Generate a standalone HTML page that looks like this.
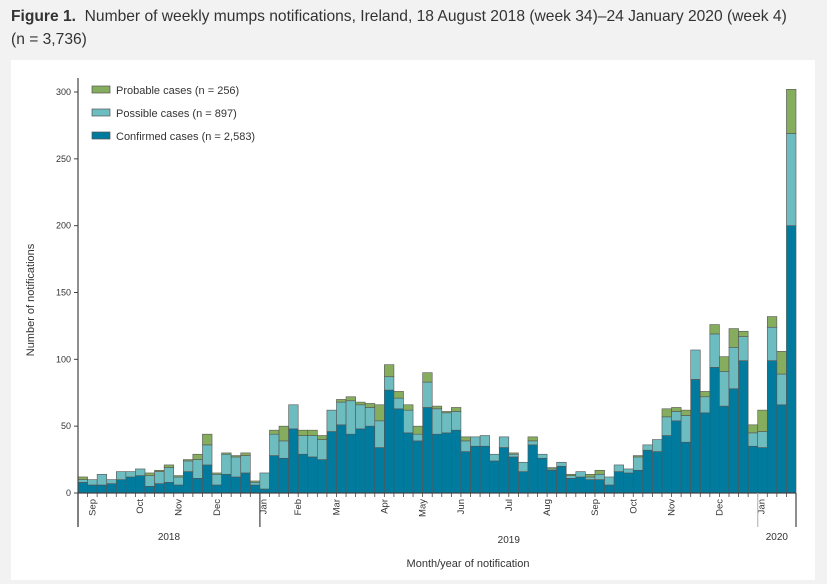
<!DOCTYPE html>
<html><head><meta charset="utf-8">
<style>
html,body{margin:0;padding:0;background:#f2f2f2;width:827px;height:584px;overflow:hidden;font-family:"Liberation Sans",sans-serif;}
#title{position:absolute;left:11px;top:5px;font-size:15.6px;line-height:23px;color:#333;white-space:nowrap;}
#panel{position:absolute;left:11px;top:60px;width:804px;height:520px;background:#fff;}
svg{position:absolute;left:0;top:0;}
</style></head><body>
<div id="title"><b>Figure 1.</b>&nbsp; Number of weekly mumps notifications, Ireland, 18 August 2018 (week 34)–24 January 2020 (week 4)<br>(n = 3,736)</div>
<div id="panel"></div>
<svg id="chart" width="827" height="584"></svg>
<script>
const confirmed=[8,6,6,7,10,12,13,5,7,8,6,16,11,21,6,14,12,15,6,3,28,26,48,29,27,25,46,51,44,48,50,34,77,63,45,39,64,44,45,47,31,35,35,24,34,27,16,36,26,17,20,11,12,10,10,6,16,15,17,32,31,43,54,38,85,60,94,65,78,99,35,34,99,66,200];
const possible=[2,4,8,3,6,4,5,8,9,11,6,8,14,15,8,15,15,13,2,12,16,13,18,14,16,15,16,17,25,18,14,20,10,8,17,5,19,19,15,14,8,7,8,5,8,2,7,3,3,1,3,2,4,2,4,6,5,3,10,4,9,14,7,20,22,12,25,26,31,18,10,12,25,23,69];
const probable=[2,0,0,0,0,0,0,2,1,2,1,1,4,8,1,1,1,2,1,0,3,11,0,4,4,3,0,2,3,2,3,12,9,5,4,6,7,2,1,3,3,0,0,0,0,1,0,3,0,1,0,1,0,2,3,0,0,0,1,0,0,6,3,4,0,4,7,11,14,4,6,16,8,17,33];
const yTicks=[0,50,100,150,200,250,300];
const months=["Sep","Oct","Nov","Dec","Jan","Feb","Mar","Apr","May","Jun","Jul","Aug","Sep","Oct","Nov","Dec","Jan"];
const monthWeek=[1.5,6.5,10.5,14.5,19.4,23,27,32,36,40,45,49,54,58,62,67,71.4];
const years=["2018","2019","2020"];
const yearSep=[0,19,71,75];

const NS="http://www.w3.org/2000/svg";
const svg=document.getElementById('chart');
const X0=78,X1=796,Y0=493,Y300=92,N=confirmed.length;
const bw=(X1-X0)/N;
const x=i=>X0+i*bw;
const y=v=>Y0-(Y0-Y300)*v/300;
function mk(tag,attrs,parent){const e=document.createElementNS(NS,tag);for(const k in attrs)e.setAttribute(k,attrs[k]);(parent||svg).appendChild(e);return e;}
const colors=["#007b9e","#6cbcc0","#86ad5e"];
const series=[confirmed,possible,probable];
const names=["confirmed","possible","probable"];
for(let i=0;i<N;i++){
  let base=0;
  for(let s=0;s<3;s++){
    const v=series[s][i];
    if(v<=0)continue;
    const r=mk('rect',{x:x(i),y:y(base+v),width:bw,height:y(base)-y(base+v),fill:colors[s],stroke:"#555","stroke-width":0.6});
    
    
    base+=v;
  }
}
let a=mk('line',{x1:X0,y1:78,x2:X0,y2:527,stroke:"#444","stroke-width":1.2});

a=mk('line',{x1:X0,y1:Y0,x2:X1,y2:Y0,stroke:"#444","stroke-width":1.2});

yTicks.forEach(t=>{
  mk('line',{x1:X0-4,y1:y(t),x2:X0,y2:y(t),stroke:"#444"});
  const tx=mk('text',{x:X0-7,y:y(t)+3,"text-anchor":"end","font-size":9,fill:"#333"});
  tx.textContent=t;
  
});
for(let i=0;i<=N;i++){mk('line',{x1:x(i),y1:Y0,x2:x(i),y2:Y0+4,stroke:"#444","stroke-width":0.8});}
months.forEach((m,k)=>{
  const cx=x(monthWeek[k])+3;
  const t=mk('text',{x:0,y:0,transform:`translate(${cx},${Y0+6}) rotate(-90)`,"text-anchor":"end","font-size":9.5,fill:"#333"});
  t.textContent=m;
  
});
yearSep.forEach((w,k)=>{
  mk('line',{x1:x(w),y1:Y0,x2:x(w),y2:527,stroke:k==2?"#bbb":"#444","stroke-width":1.2});
});
years.forEach((yr,k)=>{
  const cx=(x(yearSep[k])+x(yearSep[k+1]))/2;
  const t=mk('text',{x:cx,y:k==1?543:540,"text-anchor":"middle","font-size":10,fill:"#333"});
  t.textContent=yr;
  
});
let t=mk('text',{x:468,y:567,"text-anchor":"middle","font-size":11,fill:"#333"});
t.textContent="Month/year of notification";

t=mk('text',{x:0,y:0,transform:"translate(34,300) rotate(-90)","text-anchor":"middle","font-size":11,fill:"#333"});
t.textContent="Number of notifications";

const legendLabels=["Probable cases (n = 256)","Possible cases (n = 897)","Confirmed cases (n = 2,583)"];
const legendColors=["#86ad5e","#6cbcc0","#007b9e"];
legendLabels.forEach((l,k)=>{
  const g=mk('g',{});
  
  mk('rect',{x:92,y:86+k*23,width:18,height:7,fill:legendColors[k],stroke:"#555","stroke-width":0.7},g);
  const tt=mk('text',{x:116,y:94+k*23,"font-size":11,fill:"#333"},g);
  tt.textContent=l;
});
</script>
</body></html>
